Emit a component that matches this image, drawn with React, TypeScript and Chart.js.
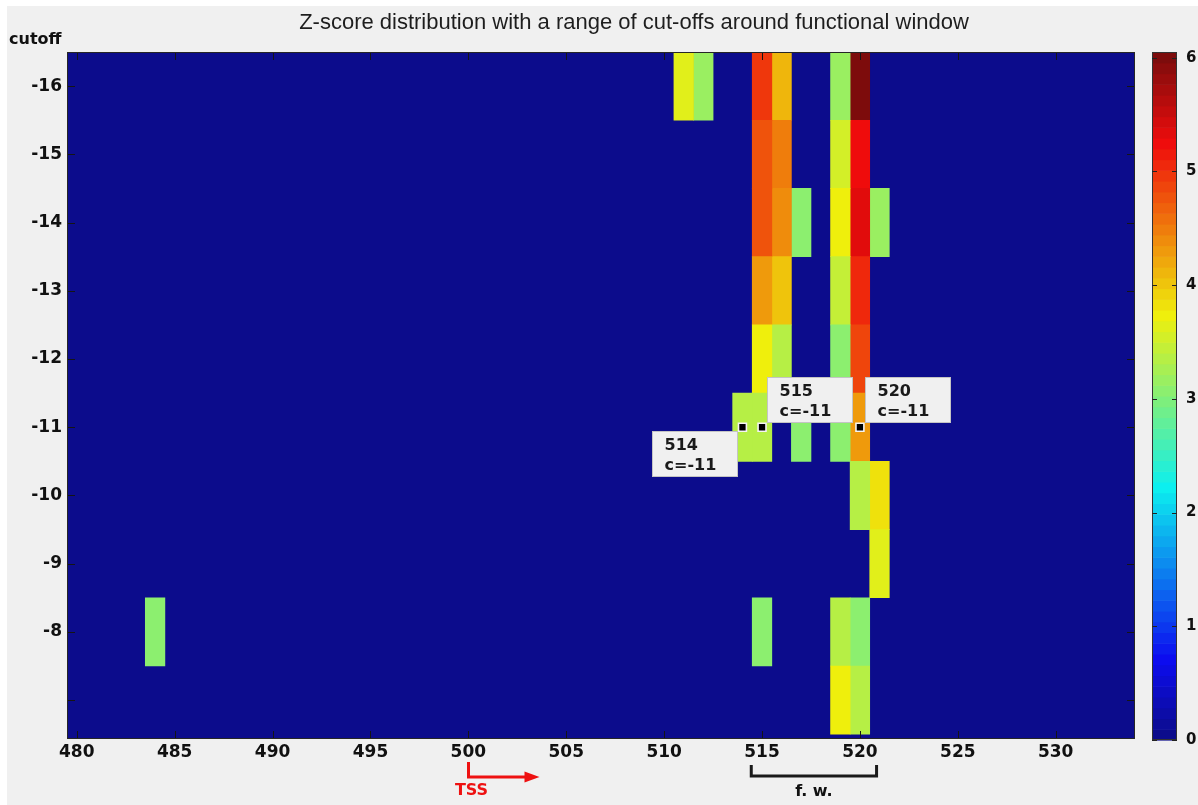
import React, { useEffect, useRef } from "react";
import { Chart, registerables } from "chart.js";

Chart.register(...registerables);

// ---- data -------------------------------------------------------------
const cutoffs = [-16, -15, -14, -13, -12, -11, -10, -9, -8, -7];
const yTickLabels = ["-16", "-15", "-14", "-13", "-12", "-11", "-10", "-9", "-8", ""];
const xTickValues = [480, 485, 490, 495, 500, 505, 510, 515, 520, 525, 530];

const positions = [484, 511, 512, 514, 515, 516, 517, 519, 520, 521];
// z-score per position; entries follow cutoffs (-16 ... -7); 0 = no signal
const z484 = [0, 0, 0, 0, 0, 0, 0, 0, 3.09, 0];
const z511 = [3.66, 0, 0, 0, 0, 0, 0, 0, 0, 0];
const z512 = [3.2, 0, 0, 0, 0, 0, 0, 0, 0, 0];
const z514 = [0, 0, 0, 0, 0, 3.36, 0, 0, 0, 0];
const z515 = [4.95, 4.78, 4.78, 4.34, 3.7, 3.36, 0, 0, 3.09, 0];
const z516 = [4.1, 4.52, 4.42, 4.0, 3.36, 0, 0, 0, 0, 0];
const z517 = [0, 0, 3.09, 0, 0, 3.09, 0, 0, 0, 0];
const z519 = [3.2, 3.58, 3.7, 3.47, 3.09, 3.09, 0, 0, 3.36, 3.7];
const z520 = [6.05, 5.25, 5.34, 5.05, 4.84, 4.3, 3.33, 0, 3.09, 3.33];
const z521 = [0, 0, 3.2, 0, 0, 0, 3.8, 3.66, 0, 0];
const zColumns = [z484, z511, z512, z514, z515, z516, z517, z519, z520, z521];

const colorMin = 0;
const colorMax = 6.05;
const colorbarTicks = [0, 1, 2, 3, 4, 5, 6];

// data tips
const tipPositions = [514, 515, 520];
const tipCutoffs = [-11, -11, -11];

// annotations under the x axis
const tssPosition = 500;
const fwStart = 514.45;
const fwEnd = 520.85;

// ---- colour map (MATLAB jet, 64 levels) -------------------------------
const LEVELS = 64;
function u(k: number) {
  if (k < 1 || k > 47) return 0;
  if (k <= 16) return k / 16;
  if (k <= 31) return 1;
  return (48 - k) / 16;
}
function tone(c: number) {
  return Math.round(12 + 0.89 * 255 * c);
}
function jetRow(r: number) {
  return `rgb(${tone(u(r - 24))},${tone(u(r - 8))},${tone(u(r + 8))})`;
}
function colorFor(v: number) {
  let idx = Math.floor(((v - colorMin) / (colorMax - colorMin)) * LEVELS) + 1;
  idx = Math.max(1, Math.min(LEVELS, idx));
  return jetRow(idx);
}

const DV = "'DejaVu Sans', 'Liberation Sans', sans-serif";

const decorPlugin = {
  id: "decor",
  beforeDraw(chart: any) {
    const { ctx, width, height } = chart;
    ctx.save();
    ctx.fillStyle = "#ffffff";
    ctx.fillRect(0, 0, width, height);
    ctx.fillStyle = "#f0f0f0";
    ctx.fillRect(7, 6, width - 7, height - 6);
    ctx.restore();
  },
  beforeDatasetsDraw(chart: any) {
    const { ctx, chartArea } = chart;
    ctx.save();
    ctx.fillStyle = colorFor(colorMin);
    ctx.fillRect(chartArea.left, chartArea.top, chartArea.right - chartArea.left, chartArea.bottom - chartArea.top);
    ctx.restore();
  },
  afterDatasetsDraw(chart: any) {
    const { ctx, chartArea } = chart;
    const { left, right, top, bottom } = chartArea;
    const xs = chart.scales.x;
    const ys = chart.scales.y;
    ctx.save();
    // inner tick marks on all four sides
    ctx.strokeStyle = "#151515";
    ctx.lineWidth = 1;
    ctx.beginPath();
    xTickValues.forEach((v) => {
      const px = Math.round(xs.getPixelForValue(v)) + 0.5;
      ctx.moveTo(px, bottom);
      ctx.lineTo(px, bottom - 8);
      ctx.moveTo(px, top);
      ctx.lineTo(px, top + 8);
    });
    cutoffs.forEach((c) => {
      const py = Math.round(ys.getPixelForValue(c)) + 0.5;
      ctx.moveTo(left, py);
      ctx.lineTo(left + 8, py);
      ctx.moveTo(right, py);
      ctx.lineTo(right - 8, py);
    });
    ctx.stroke();
    // axes box
    ctx.strokeStyle = "#262626";
    ctx.strokeRect(left + 0.5, top + 0.5, right - left - 1, bottom - top - 1);

    // data tip boxes
    const boxW = 85;
    const boxH = 45;
    const offsets = [
      { dx: -90, dy: 4 },
      { dx: 5, dy: -50 },
      { dx: 5, dy: -50 },
    ];
    tipPositions.forEach((p, i) => {
      const px = xs.getPixelForValue(p);
      const py = ys.getPixelForValue(tipCutoffs[i]);
      const bx = Math.round(px + offsets[i].dx) + 0.5;
      const by = Math.round(py + offsets[i].dy) + 0.5;
      ctx.fillStyle = "#f0f0f0";
      ctx.fillRect(bx, by, boxW, boxH);
      ctx.strokeStyle = "#c4c4c4";
      ctx.lineWidth = 1;
      ctx.strokeRect(bx, by, boxW, boxH);
      ctx.fillStyle = "#1a1a1a";
      ctx.font = `bold 16px ${DV}`;
      ctx.textAlign = "left";
      ctx.textBaseline = "middle";
      ctx.fillText(String(p), bx + 12, by + 14);
      ctx.fillText(`c=${tipCutoffs[i]}`, bx + 12, by + 34);
    });
    ctx.restore();
  },
  afterDraw(chart: any) {
    const { ctx } = chart;
    const xs = chart.scales.x;
    ctx.save();
    // title
    ctx.fillStyle = "#1e1e1e";
    ctx.font = "22px 'Liberation Sans', Arial, sans-serif";
    ctx.textAlign = "center";
    ctx.textBaseline = "middle";
    ctx.fillText("Z-score distribution with a range of cut-offs around functional window", 634, 23);

    // y axis name
    ctx.font = `bold 16px ${DV}`;
    ctx.textAlign = "left";
    ctx.fillStyle = "#111";
    ctx.fillText("cutoff", 9, 40);

    // colour bar
    const cbL = 1152, cbR = 1177, cbT = 52, cbB = 740;
    const cbY = (v: number) => cbB - ((v - colorMin) / (colorMax - colorMin)) * (cbB - cbT);
    for (let k = 0; k < LEVELS; k++) {
      const v0 = colorMin + (k / LEVELS) * (colorMax - colorMin);
      const v1 = colorMin + ((k + 1) / LEVELS) * (colorMax - colorMin);
      ctx.fillStyle = jetRow(k + 1);
      const y1 = cbY(v1);
      const y0 = cbY(v0);
      ctx.fillRect(cbL, y1, cbR - cbL, y0 - y1 + 0.6);
    }
    ctx.strokeStyle = "#333";
    ctx.lineWidth = 1;
    ctx.strokeRect(cbL + 0.5, cbT + 0.5, cbR - cbL - 1, cbB - cbT - 1);
    ctx.beginPath();
    colorbarTicks.forEach((t) => {
      const y = Math.round(cbY(t)) + 0.5;
      ctx.moveTo(cbL, y);
      ctx.lineTo(cbL + 5, y);
      ctx.moveTo(cbR - 5, y);
      ctx.lineTo(cbR, y);
    });
    ctx.strokeStyle = "#222";
    ctx.stroke();
    ctx.fillStyle = "#111";
    ctx.font = `bold 15px ${DV}`;
    ctx.textAlign = "left";
    ctx.textBaseline = "middle";
    colorbarTicks.forEach((t) => {
      ctx.fillText(String(t), 1186, cbY(t));
    });

    // TSS arrow
    const tx = Math.round(xs.getPixelForValue(tssPosition)) + 0.5;
    const ay = 777;
    ctx.strokeStyle = "#ee1111";
    ctx.fillStyle = "#ee1111";
    ctx.lineWidth = 3;
    ctx.beginPath();
    ctx.moveTo(tx, 762);
    ctx.lineTo(tx, ay);
    ctx.lineTo(tx + 58, ay);
    ctx.stroke();
    ctx.beginPath();
    ctx.moveTo(tx + 71, ay);
    ctx.lineTo(tx + 56, ay - 5.5);
    ctx.lineTo(tx + 56, ay + 5.5);
    ctx.closePath();
    ctx.fill();
    ctx.font = `bold 16px ${DV}`;
    ctx.textAlign = "center";
    ctx.fillText("TSS", tx + 3, 791);

    // functional window bracket
    const xa = xs.getPixelForValue(fwStart);
    const xb = xs.getPixelForValue(fwEnd);
    ctx.strokeStyle = "#1a1a1a";
    ctx.lineWidth = 3;
    ctx.beginPath();
    ctx.moveTo(xa, 765);
    ctx.lineTo(xa, 776);
    ctx.lineTo(xb, 776);
    ctx.lineTo(xb, 765);
    ctx.stroke();
    ctx.fillStyle = "#111";
    ctx.fillText("f. w.", (xa + xb) / 2, 792);
    ctx.restore();
  },
};

export default function App() {
  const ref = useRef<HTMLCanvasElement>(null);
  useEffect(() => {
    const canvas = ref.current;
    if (!canvas) return;

    const datasets: any[] = positions.map((pos, i) => ({
      type: "bar",
      label: String(pos),
      data: cutoffs
        .map((c, j) => ({ x: pos, y: [c - 0.5, c + 0.5], v: zColumns[i][j] }))
        .filter((d) => d.v > 0),
      backgroundColor: (ctx: any) => colorFor(ctx.raw ? ctx.raw.v : colorMin),
      borderWidth: 0,
      barPercentage: 1,
      categoryPercentage: 1,
      grouped: false,
      order: 1,
    }));
    datasets.push({
      type: "scatter",
      label: "tips",
      data: tipPositions.map((p, i) => ({ x: p, y: tipCutoffs[i] })),
      pointStyle: "rect",
      pointRadius: 5.6,
      backgroundColor: "#000",
      borderColor: "#f4f4f4",
      borderWidth: 1.6,
      order: 0,
    });

    const tickFont = { family: DV, size: 17, weight: "bold" as const };

    const chart = new Chart(canvas, {
      type: "bar",
      data: { datasets },
      options: {
        animation: false,
        responsive: false,
        devicePixelRatio: 1,
        events: [],
        layout: { padding: { left: 0, top: 52, right: 63, bottom: 0 } },
        plugins: {
          legend: { display: false },
          tooltip: { enabled: false },
          title: { display: false },
        },
        scales: {
          x: {
            type: "linear",
            position: "bottom",
            min: 479.5,
            max: 534.05,
            offset: false,
            grid: { display: false, drawTicks: false },
            border: { display: false },
            afterBuildTicks: (s: any) => {
              s.ticks = xTickValues.map((v) => ({ value: v }));
            },
            afterFit: (s: any) => {
              s.height = 66;
            },
            ticks: {
              font: tickFont,
              color: "#111",
              padding: 3,
              maxRotation: 0,
              autoSkip: false,
              callback: (v: any) => String(v),
            },
          },
          y: {
            type: "linear",
            position: "left",
            reverse: true,
            min: -16.5,
            max: -6.43,
            grid: { display: false, drawTicks: false },
            border: { display: false },
            afterBuildTicks: (s: any) => {
              s.ticks = cutoffs.map((v) => ({ value: v }));
            },
            afterFit: (s: any) => {
              s.width = 67;
            },
            ticks: {
              font: tickFont,
              color: "#111",
              padding: 5,
              autoSkip: false,
              callback: (v: any) => {
                const k = cutoffs.indexOf(Number(v));
                return k >= 0 ? yTickLabels[k] : "";
              },
            },
          },
        },
      } as any,
      plugins: [decorPlugin],
    });
    return () => chart.destroy();
  }, []);

  return (
    <canvas
      ref={ref}
      width={1198}
      height={805}
      style={{ position: "fixed", left: 0, top: 0, width: 1198, height: 805, display: "block" }}
    />
  );
}
